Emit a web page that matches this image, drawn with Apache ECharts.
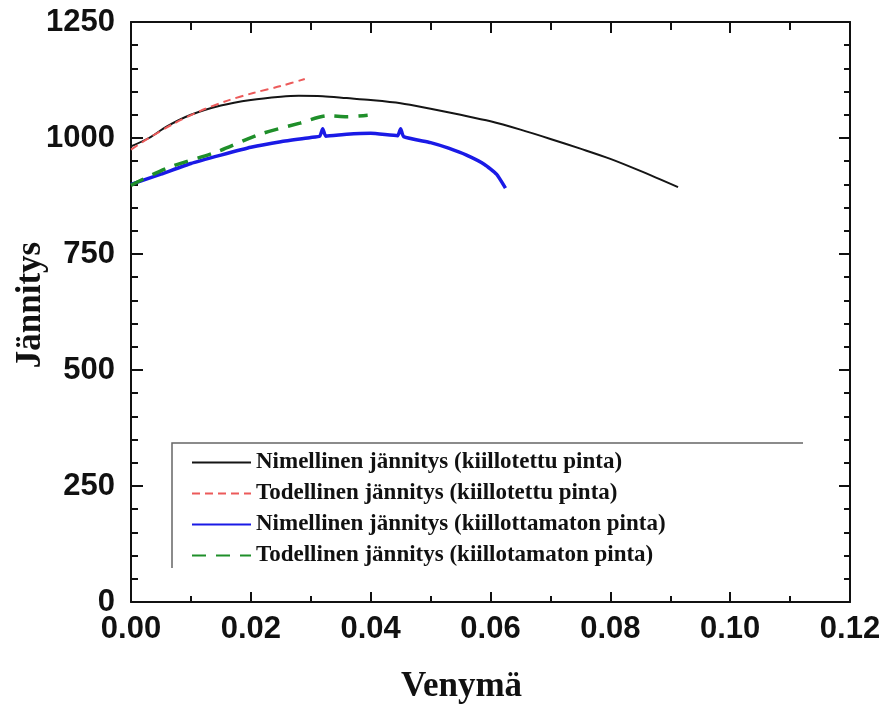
<!DOCTYPE html>
<html>
<head>
<meta charset="utf-8">
<script src="https://cdn.jsdelivr.net/npm/echarts@6/dist/echarts.min.js"></script>
<style>html,body{margin:0;padding:0;background:#fff;}#c{width:886px;height:705px;}</style>
</head>
<body>
<div id="c"></div>
<script>
var seriesNames = [
  'Nimellinen jännitys (kiillotettu pinta)',
  'Todellinen jännitys (kiillotettu pinta)',
  'Nimellinen jännitys (kiillottamaton pinta)',
  'Todellinen jännitys (kiillotamaton pinta)'
];
var nominalPolished = [
  [0, 982], [0.003, 1000], [0.006, 1025], [0.01, 1050], [0.015, 1070], [0.02, 1082],
  [0.025, 1089], [0.028, 1091], [0.032, 1090], [0.036, 1086], [0.04, 1082], [0.045, 1075],
  [0.05, 1063], [0.055, 1050], [0.06, 1036], [0.065, 1018], [0.07, 998], [0.075, 977],
  [0.08, 955], [0.085, 929], [0.0913, 894]
];
var truePolished = [
  [0, 975], [0.003, 1000], [0.007, 1030], [0.0115, 1058], [0.016, 1080],
  [0.0204, 1097], [0.025, 1112], [0.029, 1127]
];
var nominalUnpolished = [
  [0, 900], [0.005, 922], [0.01, 945], [0.015, 963], [0.02, 980], [0.025, 992],
  [0.03, 1001], [0.0315, 1004], [0.032, 1020], [0.0325, 1004], [0.036, 1008], [0.04, 1010],
  [0.0445, 1005], [0.045, 1020], [0.0455, 1003], [0.05, 990], [0.053, 978], [0.056, 963],
  [0.059, 943], [0.061, 922], [0.0625, 892]
];
var trueUnpolished = [
  [0, 898], [0.006, 935], [0.0143, 970], [0.0215, 1008], [0.0282, 1032],
  [0.033, 1048], [0.036, 1046], [0.0395, 1049]
];
var xMin = 0, xMax = 0.12, xStep = 0.02;
var yMin = 0, yMax = 1250, yStep = 250;

var chart = echarts.init(document.getElementById('c'));
var axisLineStyle = {onZero: false, lineStyle: {color: '#111', width: 2}};
var tickLabelStyle = {fontFamily: 'Liberation Sans', fontWeight: 'bold', fontSize: 31, color: '#111'};
var serifName = {fontFamily: 'Liberation Serif', fontWeight: 'bold', fontSize: 35, color: '#111'};
var tickStyle = {color: '#111', width: 2};

chart.setOption({
  animation: false,
  backgroundColor: '#fff',
  grid: {left: 131, right: 36, top: 22, bottom: 103, containLabel: false, outerBoundsMode: 'none'},
  legend: {
    orient: 'vertical', left: 191, top: 451, padding: 0,
    itemWidth: 59, itemHeight: 14, itemGap: 8,
    data: seriesNames,
    itemStyle: {color: 'transparent', borderWidth: 0, opacity: 0},
    textStyle: {fontFamily: 'Liberation Serif', fontWeight: 'bold', fontSize: 23, color: '#111'}
  },
  graphic: [{
    type: 'polyline', silent: true,
    shape: {points: [[803, 443], [172, 443], [172, 568]]},
    style: {stroke: '#666', lineWidth: 1.5, fill: null}
  }],
  xAxis: [{
    type: 'value', min: xMin, max: xMax, interval: xStep,
    name: 'Venymä', nameLocation: 'middle', nameGap: 67,
    nameTextStyle: Object.assign({padding: [0, 58, 0, 0]}, serifName),
    axisLine: axisLineStyle,
    axisTick: {inside: true, length: 10, lineStyle: tickStyle},
    minorTick: {show: true, splitNumber: 2, length: 6, lineStyle: tickStyle},
    splitLine: {show: false},
    axisLabel: Object.assign({margin: 12, formatter: function (v) { return v.toFixed(2); }}, tickLabelStyle)
  }, {
    type: 'value', min: xMin, max: xMax, interval: xStep, position: 'top',
    axisLine: axisLineStyle,
    axisTick: {inside: true, length: 11, lineStyle: tickStyle},
    minorTick: {show: true, splitNumber: 2, length: 8, lineStyle: tickStyle},
    splitLine: {show: false}, axisLabel: {show: false}
  }],
  yAxis: [{
    type: 'value', min: yMin, max: yMax, interval: yStep,
    name: 'Jännitys', nameLocation: 'middle', nameGap: 83, nameMoveOverlap: false,
    nameTextStyle: Object.assign({padding: [0, 0, 0, 14]}, serifName),
    axisLine: axisLineStyle,
    axisTick: {inside: true, length: 12, lineStyle: tickStyle},
    minorTick: {show: true, splitNumber: 5, length: 7, lineStyle: tickStyle},
    splitLine: {show: false},
    axisLabel: Object.assign({margin: 16, formatter: function (v) { return String(v); }}, tickLabelStyle)
  }, {
    type: 'value', min: yMin, max: yMax, interval: yStep, position: 'right',
    axisLine: axisLineStyle,
    axisTick: {inside: true, length: 11, lineStyle: tickStyle},
    minorTick: {show: true, splitNumber: 5, length: 6, lineStyle: tickStyle},
    splitLine: {show: false}, axisLabel: {show: false}
  }],
  series: [{
    name: seriesNames[0], type: 'line', data: nominalPolished, symbol: 'none', smooth: 0.3,
    color: '#151515', lineStyle: {color: '#151515', width: 2}
  }, {
    name: seriesNames[1], type: 'line', data: truePolished, symbol: 'none', smooth: 0.3,
    color: '#ec5a5a', lineStyle: {color: '#ec5a5a', width: 2, type: [8, 5]}
  }, {
    name: seriesNames[2], type: 'line', data: nominalUnpolished, symbol: 'none', smooth: 0.15,
    color: '#1a1ae6', lineStyle: {color: '#1a1ae6', width: 3.5}
  }, {
    name: seriesNames[3], type: 'line', data: trueUnpolished, symbol: 'none', smooth: 0.3,
    color: '#1f8f2a', lineStyle: {color: '#1f8f2a', width: 3.5, type: [14, 10]}
  }]
});
</script>
</body>
</html>
